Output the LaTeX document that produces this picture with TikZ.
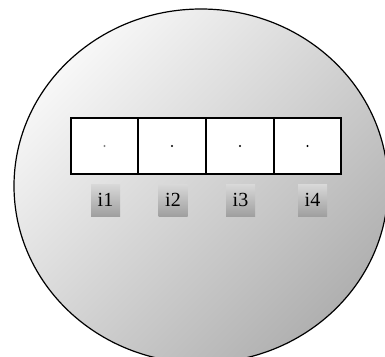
\documentclass[tikz,border=0pt]{standalone}
\usepackage{fontspec}
\setmainfont{Liberation Serif}
\begin{document}
\begin{tikzpicture}[x=1pt,y=-1pt,
  cell/.style={draw=black,line width=1.8pt,fill=white,minimum width=67pt,minimum height=56.5pt,inner sep=0pt,outer sep=0pt},
  tag/.style={minimum width=29pt,minimum height=32pt,inner sep=0pt,font=\fontsize{20}{20}\selectfont,
    left color=gray!30,right color=gray!75,shading angle=0},
  dotm/.style={circle,fill=black,inner sep=0pt,minimum size=2.2pt}]
\useasboundingbox (0,0) rectangle (385,356);
\begin{scope}
\clip (0,0) rectangle (385,356);
\shade[shading=axis,top color=gray!6,bottom color=gray!62,shading angle=45]
  (201,186) ellipse [x radius=187pt,y radius=177pt];
\draw[line width=1.2pt] (201,186) ellipse [x radius=187pt,y radius=177pt];
\end{scope}
\node[cell] (c1) at (104.5,146) {};
\node[cell] (c2) at (172,146) {};
\node[cell] (c3) at (240,146) {};
\node[cell] (c4) at (307.5,146) {};
\node[dotm,fill=gray] (d1) at (c1.center) {};
\node[dotm] (d2) at (c2.center) {};
\node[dotm] (d3) at (c3.center) {};
\node[dotm] (d4) at (c4.center) {};
\node[tag] (t1) at (105.5,200) {i1};
\node[tag] (t2) at (173,200) {i2};
\node[tag] (t3) at (240.5,200) {i3};
\node[tag] (t4) at (312.5,200) {i4};
\end{tikzpicture}
\end{document}
